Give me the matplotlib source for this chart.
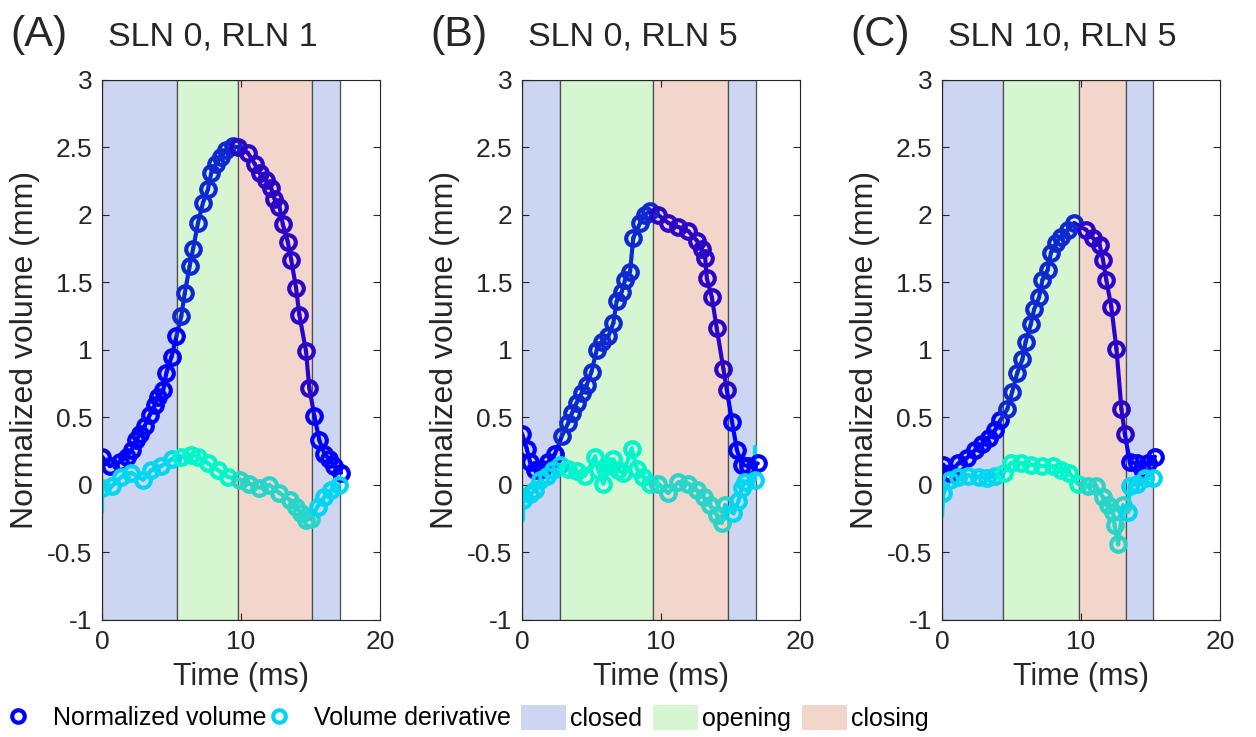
import numpy as np
import matplotlib.pyplot as plt
from matplotlib.patches import Patch
from matplotlib.lines import Line2D

plt.rcParams['font.family'] = ['Liberation Sans', 'DejaVu Sans']

# ---------------- DATA ----------------
titles = ["SLN 0, RLN 1", "SLN 0, RLN 5", "SLN 10, RLN 5"]
letters = ["(A)", "(B)", "(C)"]
phase_names = ["closed", "opening", "closing", "closed"]

# phase boundaries (ms)
a_phase = [0, 5.4, 9.8, 15.1, 17.1]
b_phase = [0, 2.75, 9.45, 14.8, 16.8]
c_phase = [0, 4.4, 9.85, 13.25, 15.2]

# normalized volume
a_vt = [0, 0.57, 1.3, 1.77, 2.13, 2.48, 2.72, 3.08, 3.44, 3.8, 4.04, 4.4, 4.63, 5.0, 5.35,
        5.7, 5.95, 6.3, 6.55, 6.9, 7.26, 7.62, 7.85, 8.2, 8.57, 8.93, 9.4, 9.8, 10.49, 10.97,
        11.33, 11.8, 12.16, 12.4, 12.76, 13.0, 13.36, 13.6, 13.95, 14.19, 14.67, 14.9, 15.27,
        15.63, 15.99, 16.34, 16.7, 17.18]
a_vv = [0.21, 0.14, 0.17, 0.21, 0.26, 0.33, 0.38, 0.44, 0.52, 0.59, 0.65, 0.70, 0.83, 0.95, 1.10,
        1.25, 1.42, 1.62, 1.75, 1.94, 2.09, 2.19, 2.31, 2.38, 2.43, 2.48, 2.51, 2.50, 2.46, 2.38,
        2.31, 2.26, 2.20, 2.12, 2.06, 1.93, 1.80, 1.67, 1.46, 1.26, 0.99, 0.72, 0.51,
        0.33, 0.23, 0.19, 0.14, 0.09]
b_vt = [0, 0.34, 0.58, 0.94, 1.42, 1.89, 2.37, 2.86, 3.33, 3.58, 3.93, 4.29, 4.65, 5.0, 5.37,
        5.73, 6.2, 6.57, 6.8, 7.17, 7.41, 7.77, 8.0, 8.49, 8.85, 9.2, 9.8, 10.53, 11.25, 11.96,
        12.57, 12.93, 13.17, 13.29, 13.65, 14.0, 14.48, 14.73, 15.1, 15.45, 15.8, 16.28, 16.95]
b_vv = [0.38, 0.27, 0.17, 0.11, 0.12, 0.17, 0.23, 0.36, 0.46, 0.53, 0.61, 0.68, 0.74, 0.84, 1.0,
        1.06, 1.10, 1.20, 1.36, 1.43, 1.52, 1.58, 1.83, 1.94, 2.0, 2.03, 2.0, 1.94, 1.91, 1.88,
        1.81, 1.75, 1.68, 1.53, 1.39, 1.16, 0.86, 0.70, 0.47, 0.26, 0.15, 0.14, 0.16]
c_vt = [0.1, 0.58, 1.18, 1.79, 2.39, 2.88, 3.36, 3.84, 4.2, 4.69, 5.05, 5.41, 5.78, 6.01, 6.38,
        6.62, 6.98, 7.22, 7.59, 7.83, 8.19, 8.55, 9.04, 9.5, 10.36, 10.85, 11.33, 11.57, 11.81,
        12.17, 12.54, 12.9, 13.14, 13.5, 13.99, 14.35, 14.83, 15.31]
c_vv = [0.15, 0.09, 0.16, 0.20, 0.26, 0.30, 0.35, 0.41, 0.48, 0.56, 0.69, 0.83, 0.93, 1.06, 1.19,
        1.30, 1.39, 1.52, 1.59, 1.72, 1.79, 1.84, 1.89, 1.94, 1.89, 1.83, 1.78, 1.67, 1.52,
        1.32, 1.01, 0.56, 0.38, 0.17, 0.16, 0.12, 0.16, 0.21]

# volume derivative (first / last entries of a line may be line-only)
a_dt = [0, 0, 0.7, 1.4, 2.1, 2.96, 3.55, 4.27, 5.0, 5.7, 6.43, 6.9, 7.62, 8.34, 9.05, 9.9,
        10.6, 11.3, 12.04, 12.76, 13.5, 13.95, 14.3, 14.67, 15.0, 15.5, 15.99, 16.46, 17.06]
a_dv = [-0.2, -0.02, -0.01, 0.06, 0.09, 0.04, 0.11, 0.14, 0.19, 0.21, 0.22, 0.21, 0.16, 0.11,
        0.06, 0.04, 0.01, -0.02, 0.0, -0.06, -0.11, -0.16, -0.21, -0.26, -0.25, -0.16, -0.09,
        -0.04, 0.0]
b_dt = [0.1, 0.1, 0.58, 0.94, 1.3, 1.78, 2.25, 2.73, 3.33, 3.93, 4.53, 5.25, 5.49, 5.85, 6.2,
        6.57, 6.93, 7.29, 7.89, 8.25, 8.73, 9.2, 9.8, 10.5, 11.25, 11.96, 12.57, 13.05, 13.53,
        14.0, 14.37, 14.6, 15.2, 15.56, 15.8, 16.04, 16.76, 16.76]
b_dv = [-0.26, -0.11, -0.07, -0.04, 0.04, 0.07, 0.11, 0.15, 0.12, 0.10, 0.07, 0.21, 0.11, 0.01,
        0.14, 0.19, 0.11, 0.09, 0.27, 0.12, 0.06, 0.01, 0.01, -0.06, 0.02, 0.01, -0.04, -0.09,
        -0.15, -0.22, -0.28, -0.15, -0.21, -0.12, -0.02, 0.02, 0.04, 0.28]
c_dt = [0, 0.1, 0.58, 1.18, 1.9, 2.63, 3.24, 3.84, 4.44, 4.93, 5.65, 6.38, 7.22, 7.95, 8.55,
        9.15, 9.76, 10.48, 11.09, 11.57, 11.93, 12.3, 12.41, 12.66, 13.02, 13.38, 13.5, 13.99,
        14.59, 15.2]
c_dv = [-0.23, -0.06, 0.04, 0.06, 0.07, 0.06, 0.05, 0.07, 0.09, 0.16, 0.16, 0.15, 0.14, 0.14,
        0.11, 0.09, 0.01, -0.01, -0.01, -0.09, -0.15, -0.20, -0.30, -0.44, -0.15, -0.20, -0.01,
        0.01, 0.05, 0.05]

# which derivative points are drawn as line only (no circle)
a_dline_only = [0]
b_dline_only = [0, 37]
c_dline_only = [0]

# ---------------- STYLE ----------------
phase_fill = {"closed": (0.80, 0.84, 0.95), "opening": (0.84, 0.96, 0.82),
              "closing": (0.95, 0.84, 0.80)}
vol_color = {"closed": (0.0, 0.0, 1.0), "opening": (0.06, 0.16, 0.82),
             "closing": (0.17, 0.02, 0.78)}
der_color = {"closed": (0.0, 0.84, 0.94), "opening": (0.0, 0.96, 0.80),
             "closing": (0.16, 0.83, 0.79)}
dark = (0.15, 0.15, 0.15)


def phase_of(t, bounds):
    idx = np.searchsorted(bounds, t, side="right") - 1
    return phase_names[int(np.clip(idx, 0, len(phase_names) - 1))]


def draw_series(ax, t, v, bounds, cmap, skip=()):
    t = np.asarray(t)
    v = np.asarray(v)
    # line segments coloured by phase
    for i in range(len(t) - 1):
        ph = phase_of(0.5 * (t[i] + t[i + 1]), bounds)
        ax.plot(t[i:i + 2], v[i:i + 2], color=cmap[ph], lw=3.0,
                solid_capstyle="round", zorder=3)
    for i in range(len(t)):
        if i in skip:
            continue
        ax.plot(t[i], v[i], "o", ms=10.5, mfc="none", mew=3.0,
                mec=cmap[phase_of(t[i], bounds)], zorder=4)


fig = plt.figure(figsize=(12.56, 7.37), dpi=100)
lefts = [0.0812, 0.4156, 0.75]
panels = [
    (a_phase, a_vt, a_vv, a_dt, a_dv, a_dline_only),
    (b_phase, b_vt, b_vv, b_dt, b_dv, b_dline_only),
    (c_phase, c_vt, c_vv, c_dt, c_dv, c_dline_only),
]

for k, (bounds, vt, vv, dt, dv, skip) in enumerate(panels):
    ax = fig.add_axes([lefts[k], 0.1588, 0.2215, 0.7327])
    for i in range(len(bounds) - 1):
        ax.axvspan(bounds[i], bounds[i + 1], facecolor=phase_fill[phase_names[i]],
                   edgecolor=(0.3, 0.3, 0.3), lw=0.9, zorder=1)
    draw_series(ax, vt, vv, bounds, vol_color)
    draw_series(ax, dt, dv, bounds, der_color, skip=skip)

    ax.set_xlim(0, 20)
    ax.set_ylim(-1, 3)
    ax.set_xticks([0, 10, 20])
    ax.set_yticks(np.arange(-1, 3.01, 0.5))
    ax.set_yticklabels([f"{y:g}" for y in np.arange(-1, 3.01, 0.5)])
    ax.tick_params(direction="in", length=5, width=0.8, labelsize=19,
                   colors=dark, top=True, right=True)
    ax.tick_params(axis="x", pad=7)
    ax.tick_params(axis="y", pad=7)
    for s in ax.spines.values():
        s.set_color(dark)
        s.set_linewidth(0.8)
        s.set_zorder(5)
    ax.set_xlabel("Time (ms)", fontsize=22, color=dark, labelpad=6)
    ax.set_ylabel("Normalized volume (mm)", fontsize=23, color=dark, labelpad=5)

    fig.text(lefts[k] - 0.0732, 0.952, letters[k], fontsize=31, va="center", ha="left",
             color=dark)
    fig.text(lefts[k] + 0.0048, 0.950, titles[k], fontsize=24.5, va="center", ha="left",
             color=dark)

marker_handles = [
    Line2D([], [], ls="none", marker="o", ms=9, mfc="none", mew=3.0, mec=vol_color["closed"]),
    Line2D([], [], ls="none", marker="o", ms=9, mfc="none", mew=3.0, mec=der_color["closed"]),
]
fig.legend(marker_handles, ["Normalized volume", "Volume derivative"],
           loc="center left", bbox_to_anchor=(0.006, 0.026), ncol=2,
           frameon=False, fontsize=18, handlelength=0.8, handletextpad=1.0,
           columnspacing=0.1, borderaxespad=0, borderpad=0)
patch_handles = [Patch(facecolor=phase_fill[p]) for p in ["closed", "opening", "closing"]]
fig.legend(patch_handles, ["closed", "opening", "closing"],
           loc="center left", bbox_to_anchor=(0.415, 0.026), ncol=3,
           frameon=False, fontsize=18, handlelength=1.8, handleheight=1.2,
           handletextpad=0.15, columnspacing=0.45, borderaxespad=0, borderpad=0)

fig.savefig("out.png", dpi=100)
